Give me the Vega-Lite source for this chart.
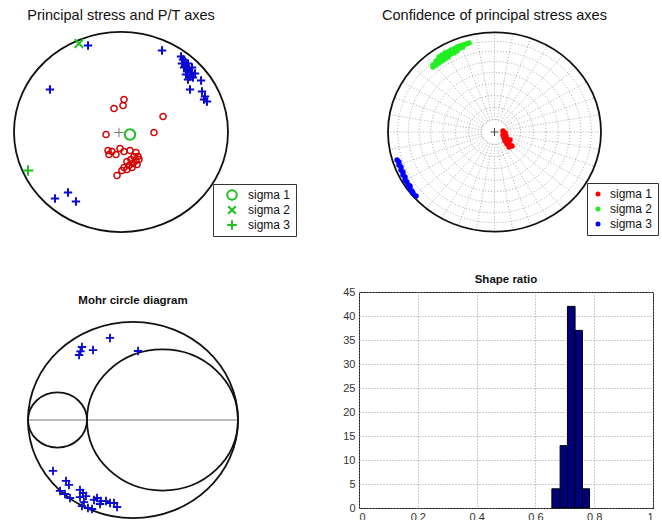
{
  "$schema": "https://vega.github.io/schema/vega-lite/v6.json",
  "background": "white",
  "padding": {"left": 10, "top": 7, "right": 0, "bottom": 0},
  "autosize": {"type": "pad"},
  "config": {
    "font": "Liberation Sans",
    "view": {"stroke": null},
    "title": {"color": "#111", "fontWeight": "normal", "baseline": "alphabetic", "anchor": "middle"}
  },
  "datasets": {
    "origin": [{"x": 0, "y": 0}],
    "p1T": [
      {"x": 0.383, "y": 0.815}, {"x": -0.308, "y": 0.865}, {"x": -0.664, "y": 0.425},
      {"x": -0.495, "y": -0.605}, {"x": -0.617, "y": -0.665}, {"x": -0.421, "y": -0.695},
      {"x": 0.561, "y": 0.755}, {"x": 0.579, "y": 0.725}, {"x": 0.598, "y": 0.705}, {"x": 0.570, "y": 0.685},
      {"x": 0.607, "y": 0.665}, {"x": 0.626, "y": 0.685}, {"x": 0.589, "y": 0.645}, {"x": 0.636, "y": 0.625},
      {"x": 0.617, "y": 0.605}, {"x": 0.654, "y": 0.595}, {"x": 0.607, "y": 0.575}, {"x": 0.645, "y": 0.555},
      {"x": 0.673, "y": 0.545}, {"x": 0.626, "y": 0.525}, {"x": 0.692, "y": 0.585}, {"x": 0.664, "y": 0.645},
      {"x": 0.748, "y": 0.515}, {"x": 0.645, "y": 0.425}, {"x": 0.757, "y": 0.405}, {"x": 0.785, "y": 0.355},
      {"x": 0.804, "y": 0.305}, {"x": 0.776, "y": 0.325}
    ],
    "p1P": [
      {"x": 0.028, "y": 0.325}, {"x": 0.019, "y": 0.265}, {"x": -0.065, "y": 0.235}, {"x": 0.393, "y": 0.155},
      {"x": -0.140, "y": -0.025}, {"x": 0.308, "y": -0.005}, {"x": -0.037, "y": -0.435},
      {"x": -0.112, "y": -0.225}, {"x": -0.084, "y": -0.195}, {"x": -0.047, "y": -0.225}, {"x": -0.009, "y": -0.165},
      {"x": 0.028, "y": -0.195}, {"x": 0.084, "y": -0.185}, {"x": 0.140, "y": -0.205}, {"x": 0.159, "y": -0.245},
      {"x": 0.121, "y": -0.245}, {"x": 0.093, "y": -0.275}, {"x": 0.140, "y": -0.285}, {"x": 0.056, "y": -0.295},
      {"x": 0.112, "y": -0.315}, {"x": 0.075, "y": -0.335}, {"x": 0.028, "y": -0.355}, {"x": 0.056, "y": -0.375},
      {"x": 0.009, "y": -0.385}, {"x": 0.103, "y": -0.355}, {"x": 0.150, "y": -0.325}, {"x": 0.168, "y": -0.275},
      {"x": -0.121, "y": -0.185}
    ],
    "p1C": [{"x": -0.019, "y": -0.005}],
    "p1S": [
      {"x": 0.084, "y": -0.025, "label": "sigma 1"},
      {"x": -0.393, "y": 0.885, "label": "sigma 2"},
      {"x": -0.869, "y": -0.385, "label": "sigma 3"}
    ],
    "p2grid": [{"r": 0.1233}, {"r": 0.2456}, {"r": 0.366}, {"r": 0.4837}, {"r": 0.5977}, {"r": 0.7071}, {"r": 0.8112}, {"r": 0.909}],
    "p2rays": [
      {"x0": 0.1233, "y0": 0, "x1": 1, "y1": 0},
      {"x0": 0.1214, "y0": 0.0214, "x1": 0.9848, "y1": 0.1736},
      {"x0": 0.1159, "y0": 0.0422, "x1": 0.9397, "y1": 0.342},
      {"x0": 0.1068, "y0": 0.0617, "x1": 0.866, "y1": 0.5},
      {"x0": 0.0945, "y0": 0.0793, "x1": 0.766, "y1": 0.6428},
      {"x0": 0.0793, "y0": 0.0945, "x1": 0.6428, "y1": 0.766},
      {"x0": 0.0617, "y0": 0.1068, "x1": 0.5, "y1": 0.866},
      {"x0": 0.0422, "y0": 0.1159, "x1": 0.342, "y1": 0.9397},
      {"x0": 0.0214, "y0": 0.1214, "x1": 0.1736, "y1": 0.9848},
      {"x0": 0, "y0": 0.1233, "x1": 0, "y1": 1},
      {"x0": -0.0214, "y0": 0.1214, "x1": -0.1736, "y1": 0.9848},
      {"x0": -0.0422, "y0": 0.1159, "x1": -0.342, "y1": 0.9397},
      {"x0": -0.0617, "y0": 0.1068, "x1": -0.5, "y1": 0.866},
      {"x0": -0.0793, "y0": 0.0945, "x1": -0.6428, "y1": 0.766},
      {"x0": -0.0945, "y0": 0.0793, "x1": -0.766, "y1": 0.6428},
      {"x0": -0.1068, "y0": 0.0617, "x1": -0.866, "y1": 0.5},
      {"x0": -0.1159, "y0": 0.0422, "x1": -0.9397, "y1": 0.342},
      {"x0": -0.1214, "y0": 0.0214, "x1": -0.9848, "y1": 0.1736},
      {"x0": -0.1233, "y0": 0, "x1": -1, "y1": 0},
      {"x0": -0.1214, "y0": -0.0214, "x1": -0.9848, "y1": -0.1736},
      {"x0": -0.1159, "y0": -0.0422, "x1": -0.9397, "y1": -0.342},
      {"x0": -0.1068, "y0": -0.0617, "x1": -0.866, "y1": -0.5},
      {"x0": -0.0945, "y0": -0.0793, "x1": -0.766, "y1": -0.6428},
      {"x0": -0.0793, "y0": -0.0945, "x1": -0.6428, "y1": -0.766},
      {"x0": -0.0617, "y0": -0.1068, "x1": -0.5, "y1": -0.866},
      {"x0": -0.0422, "y0": -0.1159, "x1": -0.342, "y1": -0.9397},
      {"x0": -0.0214, "y0": -0.1214, "x1": -0.1736, "y1": -0.9848},
      {"x0": 0, "y0": -0.1233, "x1": 0, "y1": -1},
      {"x0": 0.0214, "y0": -0.1214, "x1": 0.1736, "y1": -0.9848},
      {"x0": 0.0422, "y0": -0.1159, "x1": 0.342, "y1": -0.9397},
      {"x0": 0.0617, "y0": -0.1068, "x1": 0.5, "y1": -0.866},
      {"x0": 0.0793, "y0": -0.0945, "x1": 0.6428, "y1": -0.766},
      {"x0": 0.0945, "y0": -0.0793, "x1": 0.766, "y1": -0.6428},
      {"x0": 0.1068, "y0": -0.0617, "x1": 0.866, "y1": -0.5},
      {"x0": 0.1159, "y0": -0.0422, "x1": 0.9397, "y1": -0.342},
      {"x0": 0.1214, "y0": -0.0214, "x1": 0.9848, "y1": -0.1736}
    ],
    "p2pts": [
      {"x": 0.080, "y": 0.01, "axis": "sigma 1"}, {"x": 0.099, "y": -0.01, "axis": "sigma 1"}, {"x": 0.080, "y": -0.03, "axis": "sigma 1"},
      {"x": 0.108, "y": -0.04, "axis": "sigma 1"}, {"x": 0.089, "y": -0.06, "axis": "sigma 1"}, {"x": 0.117, "y": -0.07, "axis": "sigma 1"},
      {"x": 0.099, "y": -0.09, "axis": "sigma 1"}, {"x": 0.127, "y": -0.10, "axis": "sigma 1"}, {"x": 0.146, "y": -0.08, "axis": "sigma 1"},
      {"x": 0.117, "y": -0.12, "axis": "sigma 1"}, {"x": 0.146, "y": -0.13, "axis": "sigma 1"}, {"x": 0.164, "y": -0.14, "axis": "sigma 1"},
      {"x": 0.136, "y": -0.15, "axis": "sigma 1"},
      {"x": -0.577, "y": 0.67, "axis": "sigma 2"}, {"x": -0.577, "y": 0.65, "axis": "sigma 2"},
      {"x": -0.549, "y": 0.71, "axis": "sigma 2"}, {"x": -0.549, "y": 0.67, "axis": "sigma 2"},
      {"x": -0.521, "y": 0.75, "axis": "sigma 2"}, {"x": -0.521, "y": 0.72, "axis": "sigma 2"}, {"x": -0.521, "y": 0.69, "axis": "sigma 2"},
      {"x": -0.493, "y": 0.77, "axis": "sigma 2"}, {"x": -0.493, "y": 0.74, "axis": "sigma 2"}, {"x": -0.493, "y": 0.71, "axis": "sigma 2"},
      {"x": -0.465, "y": 0.79, "axis": "sigma 2"}, {"x": -0.465, "y": 0.76, "axis": "sigma 2"}, {"x": -0.465, "y": 0.73, "axis": "sigma 2"},
      {"x": -0.437, "y": 0.80, "axis": "sigma 2"}, {"x": -0.437, "y": 0.77, "axis": "sigma 2"}, {"x": -0.437, "y": 0.75, "axis": "sigma 2"},
      {"x": -0.408, "y": 0.82, "axis": "sigma 2"}, {"x": -0.408, "y": 0.80, "axis": "sigma 2"}, {"x": -0.408, "y": 0.78, "axis": "sigma 2"},
      {"x": -0.380, "y": 0.83, "axis": "sigma 2"}, {"x": -0.380, "y": 0.81, "axis": "sigma 2"}, {"x": -0.380, "y": 0.79, "axis": "sigma 2"},
      {"x": -0.352, "y": 0.85, "axis": "sigma 2"}, {"x": -0.352, "y": 0.83, "axis": "sigma 2"}, {"x": -0.352, "y": 0.81, "axis": "sigma 2"},
      {"x": -0.324, "y": 0.86, "axis": "sigma 2"}, {"x": -0.324, "y": 0.84, "axis": "sigma 2"},
      {"x": -0.296, "y": 0.87, "axis": "sigma 2"}, {"x": -0.296, "y": 0.85, "axis": "sigma 2"},
      {"x": -0.268, "y": 0.88, "axis": "sigma 2"}, {"x": -0.239, "y": 0.89, "axis": "sigma 2"},
      {"x": -0.915, "y": -0.28, "axis": "sigma 3"}, {"x": -0.897, "y": -0.33, "axis": "sigma 3"}, {"x": -0.878, "y": -0.38, "axis": "sigma 3"},
      {"x": -0.859, "y": -0.43, "axis": "sigma 3"}, {"x": -0.840, "y": -0.48, "axis": "sigma 3"}, {"x": -0.812, "y": -0.53, "axis": "sigma 3"},
      {"x": -0.793, "y": -0.57, "axis": "sigma 3"}, {"x": -0.765, "y": -0.61, "axis": "sigma 3"}, {"x": -0.737, "y": -0.64, "axis": "sigma 3"},
      {"x": -0.897, "y": -0.30, "axis": "sigma 3"}, {"x": -0.878, "y": -0.35, "axis": "sigma 3"}, {"x": -0.859, "y": -0.40, "axis": "sigma 3"},
      {"x": -0.840, "y": -0.45, "axis": "sigma 3"}, {"x": -0.822, "y": -0.50, "axis": "sigma 3"}, {"x": -0.793, "y": -0.54, "axis": "sigma 3"},
      {"x": -0.775, "y": -0.59, "axis": "sigma 3"}
    ],
    "p3circles": [{"cx": 0, "r": 1}, {"cx": -0.719, "r": 0.281}, {"cx": 0.281, "r": 0.719}],
    "p3line": [{"x": -1, "x2": 1, "y": 0}],
    "p3pts": [
      {"x": -0.219, "y": 0.837}, {"x": -0.486, "y": 0.745}, {"x": -0.381, "y": 0.714}, {"x": -0.514, "y": 0.663},
      {"x": -0.50, "y": 0.70}, {"x": 0.048, "y": 0.704},
      {"x": -0.762, "y": -0.520}, {"x": -0.638, "y": -0.622}, {"x": -0.610, "y": -0.663}, {"x": -0.695, "y": -0.724},
      {"x": -0.648, "y": -0.755}, {"x": -0.600, "y": -0.796}, {"x": -0.505, "y": -0.714}, {"x": -0.476, "y": -0.745},
      {"x": -0.448, "y": -0.776}, {"x": -0.505, "y": -0.786}, {"x": -0.467, "y": -0.837}, {"x": -0.429, "y": -0.898},
      {"x": -0.486, "y": -0.878}, {"x": -0.390, "y": -0.908}, {"x": -0.343, "y": -0.796}, {"x": -0.305, "y": -0.827},
      {"x": -0.257, "y": -0.827}, {"x": -0.219, "y": -0.847}, {"x": -0.181, "y": -0.847}, {"x": -0.152, "y": -0.888},
      {"x": -0.314, "y": -0.857}, {"x": -0.371, "y": -0.816}
    ],
    "p4bins": [
      {"start": 0.656, "end": 0.684, "count": 4},
      {"start": 0.684, "end": 0.709, "count": 13},
      {"start": 0.709, "end": 0.735, "count": 42},
      {"start": 0.735, "end": 0.760, "count": 37},
      {"start": 0.760, "end": 0.784, "count": 4}
    ]
  },
  "spacing": 36,
  "resolve": {
    "scale": {"color": "independent", "shape": "independent", "size": "independent", "x": "independent", "y": "independent"},
    "legend": {"color": "independent", "shape": "independent", "size": "independent"}
  },
  "vconcat": [
    {
      "spacing": 160,
      "bounds": "flush",
      "resolve": {
        "scale": {"color": "independent", "shape": "independent", "size": "independent", "x": "independent", "y": "independent"},
        "legend": {"color": "independent", "shape": "independent", "size": "independent"}
      },
      "hconcat": [
        {
          "width": 214,
          "height": 200,
          "title": {"text": "Principal stress and P/T axes", "fontSize": 14.5, "offset": 5},
          "layer": [
            {
              "data": {"name": "origin"},
              "mark": {"type": "point", "shape": "M 1 0 C 1 0.5164 0.5523 0.935 0 0.935 C -0.5523 0.935 -1 0.5164 -1 0 C -1 -0.5164 -0.5523 -0.935 0 -0.935 C 0.5523 -0.935 1 -0.5164 1 0 Z", "size": 45796, "filled": false, "stroke": "#111", "strokeWidth": 1.8, "opacity": 1},
              "encoding": {
                "x": {"field": "x", "type": "quantitative", "scale": {"domain": [-1, 1], "nice": false, "zero": false}, "axis": null},
                "y": {"field": "y", "type": "quantitative", "scale": {"domain": [-1, 1], "nice": false, "zero": false}, "axis": null}
              }
            },
            {
              "data": {"name": "p1P"},
              "mark": {"type": "point", "shape": "circle", "size": 38, "filled": false, "color": "#d40000", "strokeWidth": 1.5, "opacity": 1},
              "encoding": {
                "x": {"field": "x", "type": "quantitative"},
                "y": {"field": "y", "type": "quantitative"}
              }
            },
            {
              "data": {"name": "p1T"},
              "mark": {"type": "point", "shape": "M -1 0 L 1 0 M 0 -1 L 0 1", "size": 70, "filled": false, "color": "#0a0ad0", "strokeWidth": 2, "opacity": 1},
              "encoding": {
                "x": {"field": "x", "type": "quantitative"},
                "y": {"field": "y", "type": "quantitative"}
              }
            },
            {
              "data": {"name": "p1C"},
              "mark": {"type": "point", "shape": "M -1 0 L 1 0 M 0 -1 L 0 1", "size": 90, "filled": false, "color": "#777", "strokeWidth": 1, "opacity": 1},
              "encoding": {
                "x": {"field": "x", "type": "quantitative"},
                "y": {"field": "y", "type": "quantitative"}
              }
            },
            {
              "data": {"name": "p1S"},
              "mark": {"type": "point", "size": 110, "filled": false, "color": "#1fbf1f", "strokeWidth": 2, "opacity": 1},
              "encoding": {
                "x": {"field": "x", "type": "quantitative"},
                "y": {"field": "y", "type": "quantitative"},
                "shape": {
                  "field": "label", "type": "nominal",
                  "scale": {"domain": ["sigma 1", "sigma 2", "sigma 3"], "range": ["circle", "M -0.8 -0.8 L 0.8 0.8 M -0.8 0.8 L 0.8 -0.8", "M -1 0 L 1 0 M 0 -1 L 0 1"]},
                  "legend": {
                    "title": null, "orient": "none", "legendX": 199, "legendY": 152, "strokeColor": "#333", "fillColor": "white", "padding": 5, "rowPadding": 3, "clipHeight": 12, "symbolOffset": 8, "labelOffset": 10, "labelFontSize": 12, "labelColor": "#111", "symbolStrokeColor": "#1fbf1f", "symbolStrokeWidth": 2, "symbolFillColor": "white", "symbolSize": 90,
                    "encode": {"symbols": {"update": {"fill": {"value": "transparent"}, "stroke": {"value": "#1fbf1f"}, "strokeWidth": {"value": 2}}}}
                  }
                }
              }
            }
          ]
        },
        {
          "width": 213,
          "height": 200,
          "title": {"text": "Confidence of principal stress axes", "fontSize": 14.5, "offset": 5},
          "layer": [
            {
              "data": {"name": "p2grid"},
              "mark": {"type": "point", "shape": "M 1 0 C 1 0.5164 0.5523 0.935 0 0.935 C -0.5523 0.935 -1 0.5164 -1 0 C -1 -0.5164 -0.5523 -0.935 0 -0.935 C 0.5523 -0.935 1 -0.5164 1 0 Z", "filled": false, "stroke": "#999", "strokeWidth": 0.8, "strokeDash": [1, 2], "opacity": 1},
              "encoding": {
                "x": {"datum": 0, "type": "quantitative", "scale": {"domain": [-1, 1], "nice": false, "zero": false}, "axis": null},
                "y": {"datum": 0, "type": "quantitative", "scale": {"domain": [-1, 1], "nice": false, "zero": false}, "axis": null},
                "size": {"field": "r", "type": "quantitative", "scale": {"type": "pow", "exponent": 2, "domain": [0, 1], "range": [0, 45369]}, "legend": null}
              }
            },
            {
              "data": {"name": "p2rays"},
              "mark": {"type": "rule", "stroke": "#999", "strokeWidth": 0.8, "strokeDash": [1, 2]},
              "encoding": {
                "x": {"field": "x0", "type": "quantitative"},
                "y": {"field": "y0", "type": "quantitative"},
                "x2": {"field": "x1"},
                "y2": {"field": "y1"}
              }
            },
            {
              "data": {"name": "origin"},
              "mark": {"type": "point", "shape": "M 1 0 C 1 0.5164 0.5523 0.935 0 0.935 C -0.5523 0.935 -1 0.5164 -1 0 C -1 -0.5164 -0.5523 -0.935 0 -0.935 C 0.5523 -0.935 1 -0.5164 1 0 Z", "size": 45369, "filled": false, "stroke": "#111", "strokeWidth": 1.8, "opacity": 1},
              "encoding": {
                "x": {"field": "x", "type": "quantitative"},
                "y": {"field": "y", "type": "quantitative"}
              }
            },
            {
              "data": {"name": "origin"},
              "mark": {"type": "point", "shape": "M -1 0 L 1 0 M 0 -1 L 0 1", "size": 64, "filled": false, "stroke": "#444", "strokeWidth": 1, "opacity": 1},
              "encoding": {
                "x": {"field": "x", "type": "quantitative"},
                "y": {"field": "y", "type": "quantitative"}
              }
            },
            {
              "data": {"name": "p2pts"},
              "mark": {"type": "point", "shape": "circle", "filled": true, "size": 30, "opacity": 1},
              "encoding": {
                "x": {"field": "x", "type": "quantitative"},
                "y": {"field": "y", "type": "quantitative"},
                "color": {
                  "field": "axis", "type": "nominal",
                  "scale": {"domain": ["sigma 1", "sigma 2", "sigma 3"], "range": ["#ff0000", "#22ee22", "#0000ff"]},
                  "legend": {"title": null, "orient": "none", "legendX": 199, "legendY": 151, "strokeColor": "#333", "fillColor": "white", "padding": 5, "rowPadding": 3, "symbolOffset": 0, "labelOffset": 6, "labelFontSize": 12, "labelColor": "#111", "symbolType": "circle", "symbolSize": 25}
                }
              }
            }
          ]
        }
      ]
    },
    {
      "spacing": 121,
      "bounds": "flush",
      "resolve": {
        "scale": {"color": "independent", "shape": "independent", "size": "independent", "x": "independent", "y": "independent"},
        "legend": {"color": "independent", "shape": "independent", "size": "independent"}
      },
      "hconcat": [
        {
          "width": 224,
          "height": 226,
          "title": {"text": "Mohr circle diagram", "fontSize": 11.5, "fontWeight": "bold", "offset": 0, "dy": 14, "dx": 7},
          "layer": [
            {
              "data": {"name": "p3line"},
              "mark": {"type": "rule", "stroke": "#777", "strokeWidth": 1},
              "encoding": {
                "x": {"field": "x", "type": "quantitative", "scale": {"domain": [-1.1333, 1], "nice": false, "zero": false}, "axis": null},
                "x2": {"field": "x2"},
                "y": {"field": "y", "type": "quantitative", "scale": {"domain": [-1, 1.3061], "nice": false, "zero": false}, "axis": null}
              }
            },
            {
              "data": {"name": "p3circles"},
              "mark": {"type": "point", "shape": "M 1 0 C 1 0.5164 0.5523 0.935 0 0.935 C -0.5523 0.935 -1 0.5164 -1 0 C -1 -0.5164 -0.5523 -0.935 0 -0.935 C 0.5523 -0.935 1 -0.5164 1 0 Z", "filled": false, "stroke": "#111", "strokeWidth": 1.8, "opacity": 1},
              "encoding": {
                "x": {"field": "cx", "type": "quantitative"},
                "y": {"datum": 0, "type": "quantitative"},
                "size": {"field": "r", "type": "quantitative", "scale": {"type": "pow", "exponent": 2, "domain": [0, 1], "range": [0, 44100]}, "legend": null}
              }
            },
            {
              "data": {"name": "p3pts"},
              "mark": {"type": "point", "shape": "M -1 0 L 1 0 M 0 -1 L 0 1", "size": 70, "filled": false, "color": "#0a0ad0", "strokeWidth": 1.8, "opacity": 1},
              "encoding": {
                "x": {"field": "x", "type": "quantitative"},
                "y": {"field": "y", "type": "quantitative"}
              }
            }
          ]
        },
        {
          "width": 294,
          "height": 216,
          "view": {"stroke": "#111", "strokeWidth": 1},
          "title": {"text": "Shape ratio", "fontSize": 11.5, "fontWeight": "bold", "offset": 1},
          "data": {"name": "p4bins"},
          "mark": {"type": "bar", "color": "#00007f", "stroke": "#000", "strokeWidth": 1},
          "encoding": {
            "x": {
              "field": "start", "type": "quantitative",
              "scale": {"domain": [0, 1], "nice": false, "zero": false},
              "axis": {"title": null, "values": [0, 0.2, 0.4, 0.6, 0.8, 1], "format": "~g", "grid": true, "gridDash": [1, 2], "gridColor": "#999", "domain": false, "ticks": false, "labelFontSize": 11, "labelColor": "#333", "labelPadding": 3}
            },
            "x2": {"field": "end"},
            "y": {
              "field": "count", "type": "quantitative",
              "scale": {"domain": [0, 45], "nice": false},
              "axis": {"title": null, "values": [0, 5, 10, 15, 20, 25, 30, 35, 40, 45], "grid": true, "gridDash": [1, 2], "gridColor": "#999", "domain": false, "ticks": false, "labelFontSize": 11, "labelColor": "#333", "labelPadding": 4}
            },
            "y2": {"datum": 0}
          }
        }
      ]
    }
  ]
}
